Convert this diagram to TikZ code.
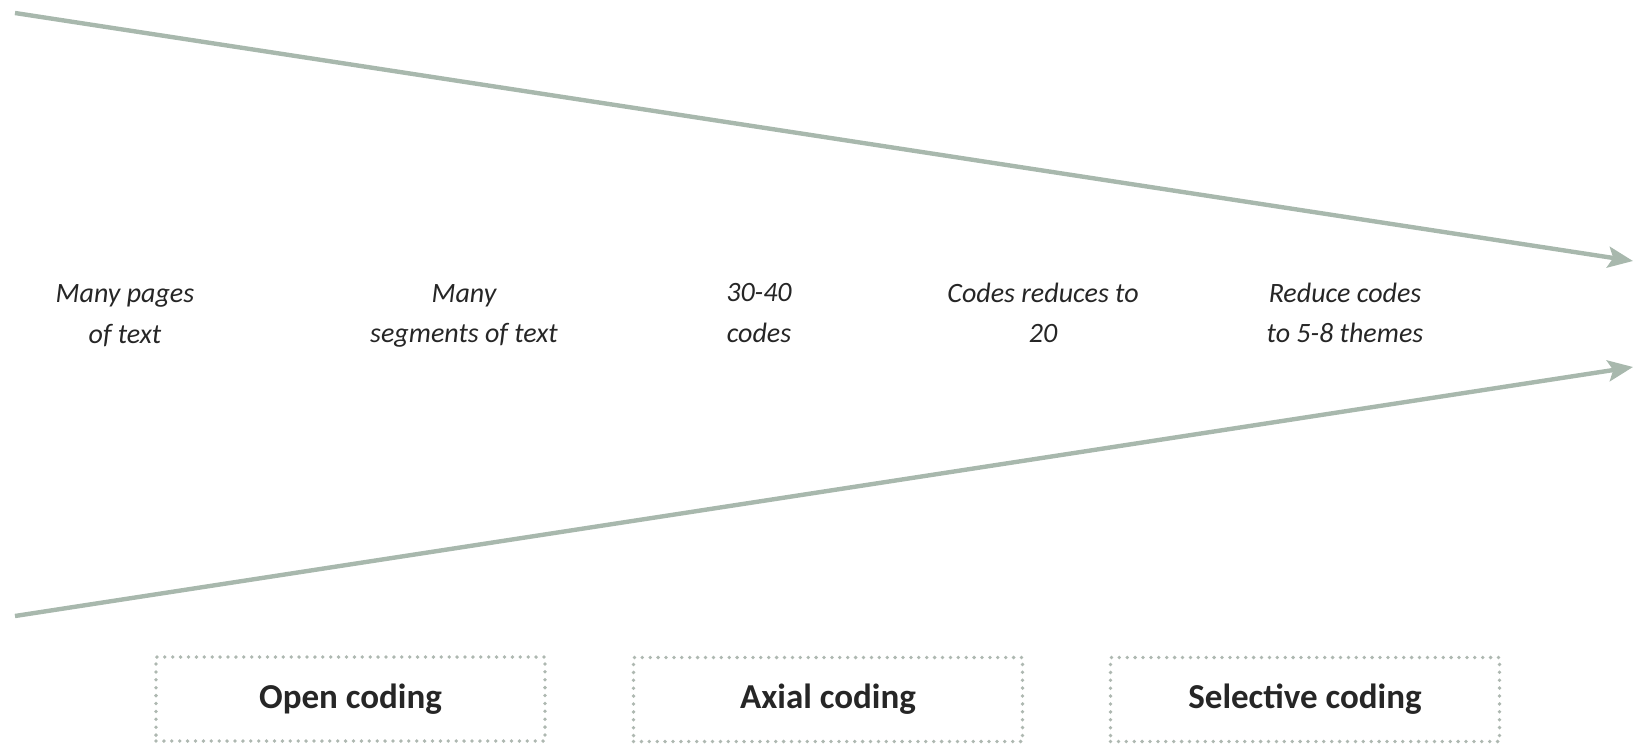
\documentclass[tikz,border=0pt]{standalone}
\usepackage{fontspec}
\setmainfont{Carlito}
\usetikzlibrary{arrows.meta}
\definecolor{flowc}{HTML}{A8B8AD}
\definecolor{dotc}{HTML}{AEB8B1}
\definecolor{txtc}{HTML}{262626}
\tikzset{
  flow/.style={draw=flowc, line width=4.4pt, -{Stealth[length=25pt,width=21pt,inset=5pt]}},
  lbl/.style={align=center, text=txtc, font=\fontsize{28}{40.7}\selectfont\itshape, inner sep=0pt},
  stage/.style={draw=dotc, line width=3.8pt, line cap=round, dash pattern=on 0pt off 7.9pt,
    minimum width=389pt, minimum height=84pt, inner sep=0pt, text=txtc,
    font=\fontsize{35}{40}\selectfont\bfseries}
}
\begin{document}
\begin{tikzpicture}[x=1pt,y=-1pt]
\useasboundingbox (0,0) rectangle (1635,744);
\coordinate (ts) at (15,13);
\coordinate (te) at (1633,261);
\coordinate (bs) at (15,616);
\coordinate (be) at (1633,367);
\draw[flow] (ts) -- (te);
\draw[flow] (bs) -- (be);
\node[lbl] (t1) at (125,316) {Many pages\\of text};
\node[lbl] (t2) at (464,316) {Many\\segments of text};
\node[lbl] (t3) at (759,313) {30-40\\codes};
\node[lbl] (t4) at (1043,313) {Codes reduces to\\20};
\node[lbl] (t5) at (1345,313) {Reduce codes\\to 5-8 themes};
\node[stage] (s1) at (350.5,699) {Open coding};
\node[stage] (s2) at (828,699.5) {Axial coding};
\node[stage] (s3) at (1305,699.5) {Selective coding};
\end{tikzpicture}
\end{document}
